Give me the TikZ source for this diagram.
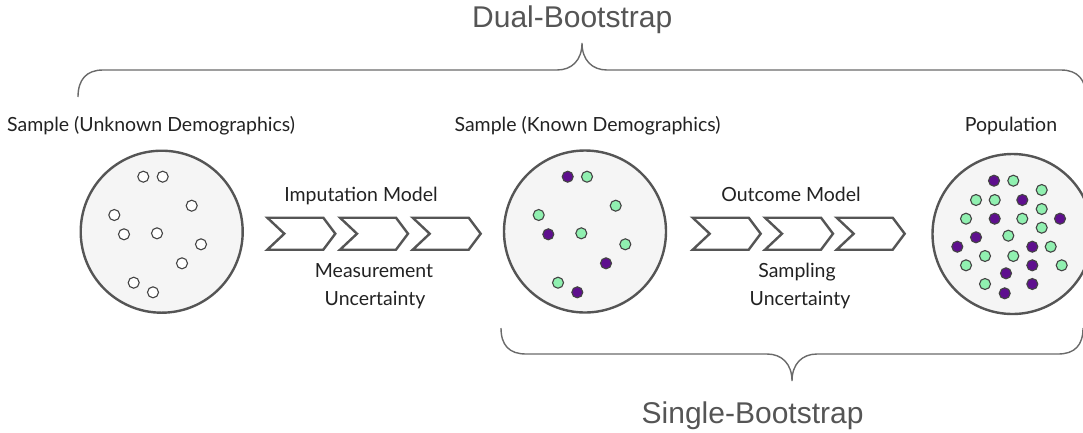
\documentclass[tikz,border=0pt]{standalone}
\usepackage{fontspec}
\setmainfont{Lato}
\newfontfamily\arialf{Liberation Sans}
\definecolor{purp}{HTML}{5E0F8E}
\definecolor{mint}{HTML}{90F0B0}
\definecolor{circfill}{HTML}{F5F5F5}
\definecolor{edgec}{HTML}{555555}
\definecolor{dotedge}{HTML}{444444}
\definecolor{bracec}{HTML}{6A6A6A}
\definecolor{titlec}{HTML}{555555}
\definecolor{labc}{HTML}{222222}
\begin{document}
\begin{tikzpicture}[x=1pt,y=-1pt,
  bigcirc/.style={circle,draw=edgec,fill=circfill,line width=2.4pt,minimum size=162pt,inner sep=0pt},
  dotbase/.style={circle,draw=dotedge,line width=1.1pt,minimum size=11pt,inner sep=0pt},
  dotw/.style={dotbase,fill=white},
  dotp/.style={dotbase,fill=purp},
  dotg/.style={dotbase,fill=mint},
  chevline/.style={draw=edgec,line width=2.4pt,fill=white,line join=miter},
  lab/.style={font=\fontsize{19.5}{23}\selectfont,text=labc,inner sep=0pt,anchor=base},
  title/.style={font=\arialf\fontsize{30}{36}\selectfont,text=titlec,inner sep=0pt,anchor=base west},
  bracel/.style={draw=bracec,line width=1.4pt},
  chev/.pic={\path[chevline] (0,0) -- (56,0) -- (68,16) -- (56,32) -- (0,32) -- (17,16) -- cycle;}
]
\useasboundingbox (0,0) rectangle (1083,432);

% titles
\node[title] (dual) at (472,27) {Dual-Bootstrap};
\node[title] (single) at (641.5,423) {Single-Bootstrap};

% braces
\path[bracel] (78,97) .. controls (78,80) and (86,70) .. (103,70) -- (557,70)
  .. controls (572,70) and (582,60) .. (582,43)
  .. controls (582,60) and (592,70) .. (607,70) -- (1061,70)
  .. controls (1078,70) and (1086,80) .. (1086,97);
\path[bracel] (501,328) .. controls (501,345) and (509,354) .. (526,354) -- (767,354)
  .. controls (782,354) and (792,364) .. (792,381)
  .. controls (792,364) and (802,354) .. (817,354) -- (1058,354)
  .. controls (1075,354) and (1083,345) .. (1083,328);

% labels
\node[lab,anchor=base west] (l1) at (7,131) {Sample (Unknown Demographics)};
\node[lab] (l2) at (587.5,131) {Sample (Known Demographics)};
\node[lab] (l3) at (1011,131) {Population};

% circles
\node[bigcirc] (c1) at (161.7,231.7) {};
\node[bigcirc] (c2) at (585,231.5) {};
\node[bigcirc,minimum size=160pt] (c3) at (1012.5,234) {};

% circle 1 dots
\foreach \x/\y [count=\i] in {143.3/176.7,162.7/176.7,191.7/205.7,114.3/215,124/234.3,157/233.3,201/244.3,182/263.3,133.7/282.7,153/292.3}
  \node[dotw] (a\i) at (\x,\y) {};

% circle 2 dots
\foreach \x/\y/\s [count=\i] in {567.7/176.7/dotp,587/176.7/dotg,615.7/205.7/dotg,538.7/215/dotg,548.3/234.3/dotp,581.3/233.3/dotg,625.3/244.3/dotg,606/263.3/dotp,558/282.7/dotg,577.3/292.3/dotp}
  \node[\s] (b\i) at (\x,\y) {};

% circle 3 dots
\foreach \x/\y/\s [count=\i] in {994/180.7/dotp,1013.3/180.7/dotg,1041.7/190/dotg,976/200/dotg,994.7/200/dotg,1022.3/200/dotp,1041.7/209/dotg,966/218.7/dotg,994.7/218.7/dotp,1022.3/218.7/dotg,1060/218.7/dotp,1041.7/227.7/dotg,976/237.3/dotp,1008.3/235.7/dotg,957.3/246.7/dotp,1032.3/246.7/dotp,1050.7/246.7/dotg,985/256/dotg,1013.3/256/dotg,966/265.3/dotg,1032.3/265.3/dotp,1061.7/265.3/dotg,1006/273.3/dotp,985/284/dotg,1032.3/284/dotp,1004.7/293.3/dotp}
  \node[\s] (d\i) at (\x,\y) {};

% chevrons
\pic (ca) at (267.3,217.7) {chev};
\pic (cb) at (340,217.7) {chev};
\pic (cc) at (412.7,217.7) {chev};
\pic (cd) at (692.7,217.7) {chev};
\pic (ce) at (765,217.7) {chev};
\pic (cf) at (836.7,217.7) {chev};

% model labels
\node[lab] (m1) at (361,201) {Imputation Model};
\node[lab] (m2) at (374,277) {Measurement};
\node[lab] (m3) at (375,305) {Uncertainty};
\node[lab] (m4) at (791,201) {Outcome Model};
\node[lab] (m5) at (797,277) {Sampling};
\node[lab] (m6) at (800,305) {Uncertainty};
\end{tikzpicture}
\end{document}
